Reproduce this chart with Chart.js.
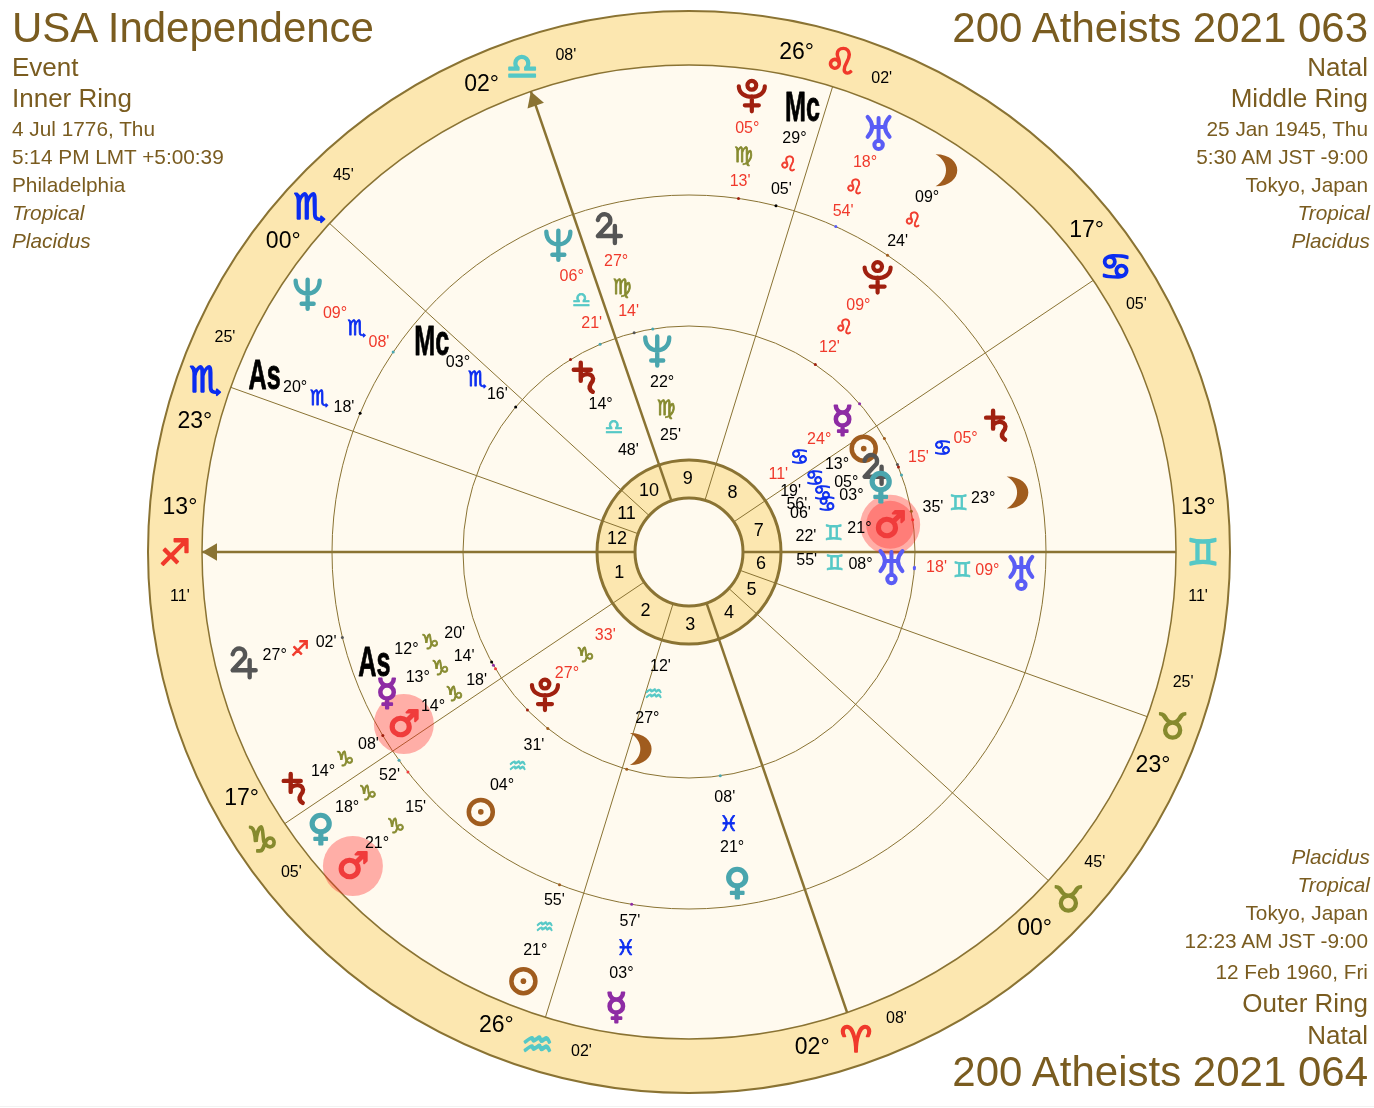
<!DOCTYPE html>
<html>
<head>
<meta charset="utf-8">
<title>200 Atheists 2021 bi-wheel</title>
<script src="https://cdn.jsdelivr.net/npm/chart.js@4/dist/chart.umd.min.js"></script>
<style>
    html, body { margin: 0; padding: 0; background: #fff; }
    #wrap { position: relative; width: 1374px; height: 1108px; overflow: hidden; }
    #wrap::after { content: ""; position: absolute; left: 0; right: 0; top: 1106px; height: 1px; background: #f2f2f2; }
    #wheel { position: absolute; left: 0; top: 0; }
    .head { position: absolute; color: #7a5c20; font-family: "Liberation Sans", sans-serif; white-space: nowrap; line-height: 1; transform: translateY(-50%); }
</style>
</head>
<body>
<div id="wrap"><canvas id="wheel" width="1374" height="1108"></canvas></div>
<script>
"use strict";

// house cusps, house 1 to 12
const cuspSigns = ["Sag", "Cap", "Aqu", "Ari", "Tau", "Tau", "Gem", "Can", "Leo", "Lib", "Sco", "Sco"];
const cuspDegrees = [13, 17, 26, 2, 0, 23, 13, 17, 26, 2, 0, 23];
const cuspMinutes = [11, 5, 2, 8, 45, 25, 11, 5, 2, 8, 45, 25];
const houseNumbers = ["1", "2", "3", "4", "5", "6", "7", "8", "9", "10", "11", "12"];

// inner stack of planets
const innerBodies = ["Pluto", "Moon", "Neptune", "Saturn", "Mercury", "Sun", "Jupiter", "Venus", "Mars", "Uranus"];
const innerSigns = ["Cap", "Aqu", "Vir", "Lib", "Can", "Can", "Can", "Can", "Gem", "Gem"];
const innerDegrees = [27, 27, 22, 14, 24, 13, 5, 3, 21, 8];
const innerMinutes = [33, 12, 25, 48, 11, 19, 56, 6, 22, 55];
const innerRetro = [1, 0, 0, 0, 1, 0, 0, 0, 0, 0];
const innerSpokes = [224.8, 256, 99, 120.9, 40.8, 30.6, 23.9, 19.2, 7.7, 355.75];

// middle stack of planets
const middleBodies = ["As", "Mercury", "Mars", "Sun", "Venus", "Uranus", "Moon", "Saturn", "Pluto", "Jupiter", "Neptune", "Mc"];
const middleSigns = ["Cap", "Cap", "Cap", "Aqu", "Pis", "Gem", "Gem", "Can", "Leo", "Vir", "Lib", "Sco"];
const middleDegrees = [12, 13, 14, 4, 21, 9, 23, 5, 9, 27, 6, 3];
const middleMinutes = [20, 14, 18, 31, 8, 18, 35, 15, 12, 14, 21, 16];
const middleRetro = [0, 0, 0, 0, 0, 1, 0, 1, 1, 1, 1, 0];
const middleSpokes = [199.1, 204.9, 211.1, 231.3, 278.3, 356.4, 10.3, 22.3, 55.5, 104.1, 113.1, 140.6];

// outer stack of planets
const outerBodies = ["Jupiter", "Saturn", "Venus", "Mars", "Sun", "Mercury", "Moon", "Uranus", "Mc", "Pluto", "Neptune", "As"];
const outerSigns = ["Sag", "Cap", "Cap", "Cap", "Aqu", "Pis", "Leo", "Leo", "Leo", "Vir", "Sco", "Sco"];
const outerDegrees = [27, 14, 18, 21, 21, 3, 9, 18, 29, 5, 9, 20];
const outerMinutes = [2, 8, 52, 15, 55, 57, 24, 54, 5, 13, 8, 18];
const outerRetro = [0, 0, 0, 0, 0, 0, 0, 1, 0, 1, 1, 0];
const outerSpokes = [194, 211, 216.8, 223.06, 248.9, 260.9, 56.1, 65.66, 75.7, 82.15, 146, 157.3];

const signNames = ["Ari", "Tau", "Gem", "Can", "Leo", "Vir", "Lib", "Sco", "Sag", "Cap", "Aqu", "Pis"];
const signGlyphs = ["♈", "♉", "♊", "♋", "♌", "♍", "♎", "♏", "♐", "♑", "♒", "♓"];
const signColors = ["#f0392b", "#868a2e", "#55c8c6", "#0a2cf0"];

const bodyGlyphs = { Mercury: "☿", Venus: "♀", Mars: "♂", As: "As", Mc: "Mc" };
const bodyColors = { Sun: "#a05c1e", Moon: "#a05c1e", Mercury: "#8e2ca4", Venus: "#4aa6ae", Mars: "#f03c3c", Jupiter: "#555555", Saturn: "#a0200f", Uranus: "#5a5cf5", Neptune: "#4aa6ae", Pluto: "#a0200f", As: "#000000", Mc: "#000000" };

const RED = "#f0392b";
const GOLD = "#8a7333";
const BAND = "#fce7b0";
const CREAM = "#fffaef";
const SANS = '"Liberation Sans", sans-serif';
const GLYPH = '"DejaVu Sans", sans-serif';

// corner text blocks: text, y, size, side, italic
const headerLines = [
    ["USA Independence", 28, 42, "l"],
    ["Event", 67, 26, "l"],
    ["Inner Ring", 98, 26, "l"],
    ["4 Jul 1776, Thu", 129, 20.8, "l"],
    ["5:14 PM LMT +5:00:39", 157, 20.8, "l"],
    ["Philadelphia", 185, 20.8, "l"],
    ["Tropical", 213, 20.8, "l", true],
    ["Placidus", 241, 20.8, "l", true],
    ["200 Atheists 2021 063", 28, 42, "r"],
    ["Natal", 67, 26, "r"],
    ["Middle Ring", 98, 26, "r"],
    ["25 Jan 1945, Thu", 129, 20.8, "r"],
    ["5:30 AM JST -9:00", 157, 20.8, "r"],
    ["Tokyo, Japan", 185, 20.8, "r"],
    ["Tropical", 213, 20.8, "r", true],
    ["Placidus", 241, 20.8, "r", true],
    ["Placidus", 857, 20.8, "r", true],
    ["Tropical", 885, 20.8, "r", true],
    ["Tokyo, Japan", 913, 20.8, "r"],
    ["12:23 AM JST -9:00", 941, 20.8, "r"],
    ["12 Feb 1960, Fri", 972, 20.8, "r"],
    ["Outer Ring", 1003, 26, "r"],
    ["Natal", 1035, 26, "r"],
    ["200 Atheists 2021 064", 1072, 42, "r"]
];

(() => {

    let wrap = document.getElementById("wrap");
    headerLines.forEach(([text, y, size, side, italic]) => {
        let span = document.createElement("div");
        span.className = "head";
        span.textContent = text;
        span.style.top = y + "px";
        span.style.fontSize = size + "px";
        if (side === "l") span.style.left = "12px";
        else span.style.right = italic ? "4px" : "6px";
        if (italic) span.style.fontStyle = "italic";
        wrap.appendChild(span);
    });

    function longitude(sign, deg, min) {
        return signNames.indexOf(sign) * 30 + deg + min / 60;
    }

    const ascendant = longitude(cuspSigns[0], cuspDegrees[0], cuspMinutes[0]);

    // wheel angle, counter-clockwise from the right, ascendant on the left
    function wheelAngle(lon) {
        return (180 + lon - ascendant + 720) % 360;
    }

    function polar(angle, radius) {
        let rad = angle * Math.PI / 180;
        return { x: Math.cos(rad) * radius, y: Math.sin(rad) * radius };
    }

    function signColor(sign) {
        return signColors[signNames.indexOf(sign) % 4];
    }

    function signGlyph(sign) {
        return signGlyphs[signNames.indexOf(sign)] + "\uFE0E";
    }

    let labels = [];

    function addLabel(angle, radius, text, color, font, extra) {
        labels.push({ ...polar(angle, radius), text, color, font, ...extra });
    }

    // the font's outer planets and Sun look nothing like the reference, so these are drawn
    const glyphPainters = {
        Sun(ctx) {
            ctx.lineWidth = 4.5;
            ctx.beginPath();
            ctx.arc(0, 0, 12, 0, Math.PI * 2);
            ctx.stroke();
            ctx.beginPath();
            ctx.arc(0, 0, 2.8, 0, Math.PI * 2);
            ctx.fill();
        },
        Moon(ctx) {
            ctx.beginPath();
            ctx.moveTo(-10, -16);
            ctx.bezierCurveTo(19, -16, 19, 16, -10, 16);
            ctx.bezierCurveTo(4, 8, 4, -8, -10, -16);
            ctx.fill();
        },
        Jupiter(ctx) {
            ctx.lineWidth = 4.4;
            ctx.beginPath();
            ctx.moveTo(-10, -9);
            ctx.bezierCurveTo(-8, -18, 5, -16, 2, -6);
            ctx.lineTo(-10, 7);
            ctx.lineTo(13, 7);
            ctx.moveTo(7, -3);
            ctx.lineTo(7, 14);
            ctx.stroke();
        },
        Saturn(ctx) {
            ctx.lineWidth = 4.4;
            ctx.beginPath();
            ctx.moveTo(-4, -15);
            ctx.lineTo(-4, 3);
            ctx.moveTo(-11, -8);
            ctx.lineTo(6, -8);
            ctx.moveTo(-4, -1);
            ctx.bezierCurveTo(3, -7, 13, -2, 6, 6);
            ctx.quadraticCurveTo(3, 11, 8, 14);
            ctx.stroke();
        },
        Uranus(ctx) {
            ctx.lineWidth = 4;
            ctx.beginPath();
            ctx.moveTo(0, -15);
            ctx.lineTo(0, 8);
            ctx.moveTo(-11, -16);
            ctx.quadraticCurveTo(-2, -6, -11, 4);
            ctx.moveTo(11, -16);
            ctx.quadraticCurveTo(2, -6, 11, 4);
            ctx.moveTo(-6, -6);
            ctx.lineTo(6, -6);
            ctx.stroke();
            ctx.beginPath();
            ctx.arc(0, 12, 4.2, 0, Math.PI * 2);
            ctx.stroke();
        },
        Neptune(ctx) {
            ctx.lineWidth = 4.4;
            ctx.beginPath();
            ctx.moveTo(-12, -14);
            ctx.bezierCurveTo(-12, 3, 12, 3, 12, -14);
            ctx.moveTo(0, -15);
            ctx.lineTo(0, 14);
            ctx.moveTo(-6, 9);
            ctx.lineTo(6, 9);
            ctx.stroke();
        },
        Pluto(ctx) {
            ctx.lineWidth = 4.2;
            ctx.beginPath();
            ctx.arc(0, -11, 4.4, 0, Math.PI * 2);
            ctx.moveTo(-13, -10);
            ctx.bezierCurveTo(-13, 4, 13, 4, 13, -10);
            ctx.moveTo(0, 0);
            ctx.lineTo(0, 15);
            ctx.moveTo(-7, 9);
            ctx.lineTo(7, 9);
            ctx.stroke();
        }
    };

    function disc(radius, fill, borderWidth) {
        return {
            data: [{ x: 0, y: 0 }],
            pointRadius: radius,
            pointHoverRadius: radius,
            backgroundColor: fill,
            borderColor: GOLD,
            borderWidth: borderWidth,
            clip: false
        };
    }

    function cuspLine(angle, from, to, width) {
        return {
            data: [polar(angle, from), polar(angle, to)],
            showLine: true,
            pointRadius: 0,
            borderColor: GOLD,
            borderWidth: width,
            clip: false
        };
    }

    // painter's order here, reversed before it goes to Chart.js
    let layers = [
        disc(541, BAND, 2),
        disc(487, CREAM, 1.5),
        disc(357, "transparent", 1),
        disc(226, "transparent", 1),
        disc(92, BAND, 3),
        disc(54, CREAM, 3)
    ];

    let cuspAngles = cuspSigns.map((sign, i) => wheelAngle(longitude(sign, cuspDegrees[i], cuspMinutes[i])));

    cuspAngles.forEach((angle, i) => {
        let heavy = i % 3 === 0;
        layers.push(cuspLine(angle, 54, 487, heavy ? 2.5 : 1));

        let nextAngle = cuspAngles[(i + 1) % 12];
        let span = (nextAngle - angle + 360) % 360;
        addLabel(angle + span / 2, 73, houseNumbers[i], "#000", "18px " + SANS);

        // degree, sign and minute in the zodiac band
        let sign = cuspSigns[i];
        let side = angle < 180 ? 5 : -5;
        addLabel(angle + side, 511, String(cuspDegrees[i]).padStart(2, "0") + "°", "#000", "23px " + SANS);
        addLabel(angle, 514, signGlyph(sign), signColor(sign), "bold 36px " + GLYPH, { stroke: 1.6, dy: 4 });
        addLabel(angle - side, 511, String(cuspMinutes[i]).padStart(2, "0") + "'", "#000", "16px " + SANS);
    });

    // arrow heads on the ascendant and the midheaven
    [0, 9].forEach((i) => {
        layers.push({
            data: [polar(cuspAngles[i], 477)],
            pointStyle: "triangle",
            pointRadius: 10,
            rotation: 90 - cuspAngles[i],
            backgroundColor: GOLD,
            borderColor: GOLD,
            borderWidth: 0,
            clip: false
        });
    });

    function addStack(bodies, signs, degrees, minutes, retro, spokes, radii, tickRadius) {
        bodies.forEach((body, i) => {
            let angle = spokes[i];
            let textColor = retro[i] ? RED : "#000";
            let lon = longitude(signs[i], degrees[i], minutes[i]);

            layers.push({
                data: [polar(wheelAngle(lon), tickRadius)],
                pointRadius: 1.5,
                backgroundColor: bodyColors[body],
                borderWidth: 0,
                clip: false
            });

            if (body === "Mars") {
                layers.push({
                    data: [polar(angle, radii[0])],
                    pointRadius: 30,
                    backgroundColor: "rgba(255, 40, 40, 0.36)",
                    borderWidth: 0,
                    clip: false
                });
            }

            if (body === "As" || body === "Mc") {
                addLabel(angle, radii[0], bodyGlyphs[body], bodyColors[body], "bold 42px " + SANS, { squeeze: 0.6, stroke: 0.8, dy: 3 });
            } else if (glyphPainters[body]) {
                addLabel(angle, radii[0], "", bodyColors[body], "", { painter: glyphPainters[body] });
            } else {
                addLabel(angle, radii[0], bodyGlyphs[body] + "\uFE0E", bodyColors[body], "bold 36px " + GLYPH, { stroke: 2, dy: 3 });
            }
            addLabel(angle, radii[1], String(degrees[i]).padStart(2, "0") + "°", textColor, "16px " + SANS);
            addLabel(angle, radii[2], signGlyph(signs[i]), signColor(signs[i]), "21px " + GLYPH, { stroke: 0.8, dy: 2 });
            addLabel(angle, radii[3], String(minutes[i]).padStart(2, "0") + "'", textColor, "16px " + SANS);
        });
    }

    addStack(innerBodies, innerSigns, innerDegrees, innerMinutes, innerRetro, innerSpokes, [203, 172, 146, 118], 226);
    addStack(middleBodies, middleSigns, middleDegrees, middleMinutes, middleRetro, middleSpokes, [333, 299, 274, 248], 226);
    addStack(outerBodies, outerSigns, outerDegrees, outerMinutes, outerRetro, outerSpokes, [460, 427, 401, 374], 357);

    // second, darker disc behind the inner Mars
    layers.push({
        data: [polar(innerSpokes[innerBodies.indexOf("Mars")], 203)],
        pointRadius: 24,
        backgroundColor: "rgba(255, 40, 40, 0.36)",
        borderWidth: 0,
        clip: false
    });

    // all text hangs on one invisible dataset so it follows the scales
    layers.push({
        data: labels,
        pointRadius: 0,
        clip: false
    });

    const labelPlugin = {
        id: "wheelLabels",
        afterDatasetsDraw(chart) {
            let ctx = chart.ctx;
            let meta = chart.getDatasetMeta(0);
            ctx.textAlign = "center";
            ctx.textBaseline = "middle";
            meta.data.forEach((point, i) => {
                let item = labels[i];
                ctx.save();
                ctx.translate(point.x, point.y + (item.dy || 0));
                ctx.fillStyle = item.color;
                ctx.strokeStyle = item.color;
                ctx.lineCap = "round";
                ctx.lineJoin = "round";
                if (item.painter) {
                    item.painter(ctx);
                } else {
                    ctx.font = item.font;
                    if (item.squeeze) ctx.scale(item.squeeze, 1);
                    if (item.stroke) {
                        ctx.lineWidth = item.stroke;
                        ctx.strokeText(item.text, 0, 0);
                    }
                    ctx.fillText(item.text, 0, 0);
                }
                ctx.restore();
            });
        }
    };

    new Chart(document.getElementById("wheel"), {
        type: "scatter",
        data: { datasets: layers.reverse() },
        plugins: [labelPlugin],
        options: {
            responsive: false,
            animation: false,
            devicePixelRatio: 1,
            events: [],
            layout: { padding: 0, autoPadding: false },
            plugins: { legend: { display: false }, tooltip: { enabled: false } },
            scales: {
                x: { type: "linear", display: false, min: -689, max: 685 },
                y: { type: "linear", display: false, min: -556, max: 552 }
            }
        }
    });

})();
</script>
</body>
</html>
